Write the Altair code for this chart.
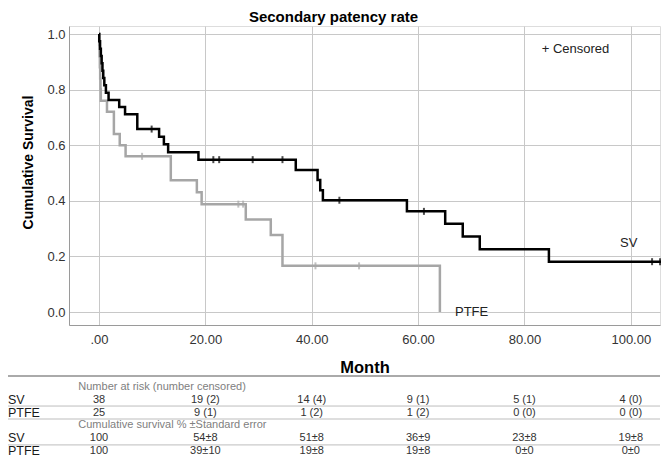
import altair as alt
import pandas as pd

# ---------------- data ----------------
# Kaplan-Meier steps (month, cumulative survival)
sv_time = [0, 0.05, 0.2, 0.35, 0.5, 0.65, 0.8, 1.0, 1.3, 1.8, 3.8, 4.9, 7.2,
           11.3, 12.2, 13.0, 18.7, 37.0, 41.1, 41.6, 42.1, 57.9, 65.1, 68.4,
           71.6, 84.6, 105.7]
sv_surv = [1.0, 0.974, 0.947, 0.921, 0.895, 0.868, 0.842, 0.816, 0.789, 0.763,
           0.737, 0.711, 0.658, 0.630, 0.603, 0.575, 0.548, 0.511, 0.475, 0.438,
           0.402, 0.362, 0.317, 0.272, 0.226, 0.181, 0.181]
sv_cens_time = [9.9, 21.5, 22.6, 28.9, 34.5, 45.2, 61.1, 104.0, 105.5]
sv_cens_surv = [0.658, 0.548, 0.548, 0.548, 0.548, 0.402, 0.362, 0.181, 0.181]

ptfe_time = [0, 0.04, 0.1, 0.16, 0.22, 0.28, 0.34, 1.5, 2.8, 3.9, 5.0, 13.5,
             18.4, 19.3, 27.6, 32.3, 34.5, 64.1]
ptfe_surv = [1.0, 0.96, 0.92, 0.88, 0.84, 0.80, 0.76, 0.72, 0.64, 0.60, 0.56,
             0.474, 0.431, 0.388, 0.333, 0.277, 0.166, 0.0]
ptfe_cens_time = [8.1, 26.2, 27.1, 40.7, 48.9]
ptfe_cens_surv = [0.56, 0.388, 0.388, 0.166, 0.166]

# risk table
table_months = [0, 20, 40, 60, 80, 100]
sv_at_risk = ["38", "19 (2)", "14 (4)", "9 (1)", "5 (1)", "4 (0)"]
ptfe_at_risk = ["25", "9 (1)", "1 (2)", "1 (2)", "0 (0)", "0 (0)"]
sv_cum = ["100", "54±8", "51±8", "36±9", "23±8", "19±8"]
ptfe_cum = ["100", "39±10", "19±8", "19±8", "0±0", "0±0"]
table_headers = ["Number at risk (number censored)",
                 "Cumulative survival % ±Standard error"]
row_names = ["SV", "PTFE", "SV", "PTFE"]
chart_title = "Secondary patency rate"

x_ticks = [0, 20, 40, 60, 80, 100]
y_ticks = [0.0, 0.2, 0.4, 0.6, 0.8, 1.0]

# ---------------- layout constants ----------------
FONT = "Liberation Sans"
TOP_PAD = 18
PLOT_W, PLOT_H = 591, 299
PX_PER_MONTH = 5.318
X_MIN = -30 / PX_PER_MONTH
X_MAX = X_MIN + PLOT_W / PX_PER_MONTH
PX_PER_UNIT = 278
Y_MAX = 1 + 8 / PX_PER_UNIT
Y_MIN = Y_MAX - PLOT_H / PX_PER_UNIT
LEFT_PAD = 61
LABEL_X = X_MIN - LEFT_PAD / PX_PER_MONTH          # left edge of svg
HEADER_X = X_MIN + 9.3 / PX_PER_MONTH
ROW0_PX, ROW_STEP = 386.6 - 8 - TOP_PAD, 12.96
ROW_A = -ROW0_PX / ROW_STEP
ROW_B = ROW_A + PLOT_H / ROW_STEP

# ---------------- frames ----------------
sv_df = pd.DataFrame({"month": sv_time, "surv": sv_surv})
ptfe_df = pd.DataFrame({"month": ptfe_time, "surv": ptfe_surv})
sv_c = pd.DataFrame({"month": sv_cens_time, "surv": sv_cens_surv})
ptfe_c = pd.DataFrame({"month": ptfe_cens_time, "surv": ptfe_cens_surv})

vals = []
for r, arr in [(1, sv_at_risk), (2, ptfe_at_risk), (4, sv_cum), (5, ptfe_cum)]:
    for m, t in zip(table_months, arr):
        vals.append({"month": m, "row": r, "txt": t})
vals_df = pd.DataFrame(vals)
names_df = pd.DataFrame({"row": [1, 2, 4, 5], "txt": row_names})
head_df = pd.DataFrame({"row": [0, 3], "txt": table_headers})
thin_df = pd.DataFrame({"row": [1.5, 2.5, 4.5]})
sep_df = pd.DataFrame({"row": [-0.82]})

# ---------------- encodings ----------------
xenc = alt.X(
    "month:Q",
    scale=alt.Scale(domain=[X_MIN, X_MAX], nice=False, zero=False),
    axis=alt.Axis(
        values=x_ticks,
        labelExpr="datum.value == 0 ? '.00' : format(datum.value, '.2f')",
        title="Month", grid=True, gridColor="#c8c8c8", gridWidth=1,
        domainColor="#9a9a9a", ticks=False, labelPadding=8,
        labelFont=FONT, labelFontSize=13, labelColor="#333333",
        titleFont=FONT, titleFontSize=16.5, titleFontWeight="bold",
        titleColor="#000000", titlePadding=13,
    ),
)
yenc = alt.Y(
    "surv:Q",
    scale=alt.Scale(domain=[Y_MIN, Y_MAX], nice=False, zero=False),
    axis=alt.Axis(
        values=y_ticks, format=".1f", title="Cumulative Survival",
        grid=True, gridColor="#c8c8c8", gridWidth=1, domainColor="#9a9a9a",
        ticks=False, labelPadding=4, labelFont=FONT, labelFontSize=13,
        labelColor="#333333", titleFont=FONT, titleFontSize=14,
        titleFontWeight="bold", titleColor="#000000", titlePadding=11,
        titleY=162 - 8 - TOP_PAD,
    ),
)
xq = alt.X("month:Q")
yq = alt.Y("surv:Q")

ptfe_line = alt.Chart(ptfe_df).mark_line(
    interpolate="step-after", strokeWidth=2.5, color="#a6a6a6"
).encode(x=xenc, y=yenc)
sv_line = alt.Chart(sv_df).mark_line(
    interpolate="step-after", strokeWidth=2.5, color="#000000"
).encode(x=xq, y=yq)
ptfe_ticks = alt.Chart(ptfe_c).mark_tick(
    orient="vertical", size=7, thickness=2, color="#a6a6a6"
).encode(x=xq, y=yq)
sv_ticks = alt.Chart(sv_c).mark_tick(
    orient="vertical", size=7, thickness=2, color="#000000"
).encode(x=xq, y=yq)

def note(txt, mx, vy):
    return alt.Chart(pd.DataFrame({"t": [txt]})).mark_text(
        align="left", baseline="middle", font=FONT, fontSize=13, color="#222222"
    ).encode(x=alt.datum(mx), y=alt.datum(vy), text="t:N")

title_txt = alt.Chart(pd.DataFrame({"t": [chart_title]})).mark_text(
    align="center", baseline="alphabetic", font=FONT, fontSize=15,
    fontWeight="bold", color="#000000"
).encode(x=alt.value(PLOT_W / 2 - 31), y=alt.value(-4), text="t:N")

plot = alt.layer(
    ptfe_line, sv_line, ptfe_ticks, sv_ticks,
    note("+ Censored", 83.25, 0.946),
    note("SV", 97.97, 0.248),
    note("PTFE", 66.94, 0.0),
    title_txt,
)

rowenc = alt.Y("row:Q", scale=alt.Scale(domain=[ROW_A, ROW_B], reverse=True,
                                        nice=False, zero=False), axis=None)

sep = alt.Chart(sep_df).mark_rule(color="#aaaaaa", strokeWidth=2).encode(
    x=alt.datum(LABEL_X), x2=alt.datum(X_MAX), y=rowenc)
thin = alt.Chart(thin_df).mark_rule(color="#bdbdbd", strokeWidth=1).encode(
    x=alt.datum(LABEL_X), x2=alt.datum(X_MAX), y=rowenc)
values_txt = alt.Chart(vals_df).mark_text(
    align="center", baseline="middle", font=FONT, fontSize=11, color="#333333"
).encode(x=xq, y=rowenc, text="txt:N")
names_txt = alt.Chart(names_df).mark_text(
    align="left", baseline="middle", font=FONT, fontSize=12.5, color="#1a1a1a"
).encode(x=alt.datum(LABEL_X), y=rowenc, text="txt:N")
head_txt = alt.Chart(head_df).mark_text(
    align="left", baseline="middle", font=FONT, fontSize=11, color="#808080"
).encode(x=alt.datum(HEADER_X), y=rowenc, text="txt:N")

table = alt.layer(sep, thin, values_txt, names_txt, head_txt)

chart = alt.layer(plot, table).resolve_scale(y="independent").properties(
    width=PLOT_W, height=PLOT_H,
    autosize=alt.AutoSizeParams(type="none"),
    padding={"left": LEFT_PAD, "top": TOP_PAD, "right": 1,
             "bottom": 450 - TOP_PAD - PLOT_H},
).configure_view(stroke=None).configure(background="white")

chart.save("out.html", embed_options={"renderer": "svg", "actions": False})
